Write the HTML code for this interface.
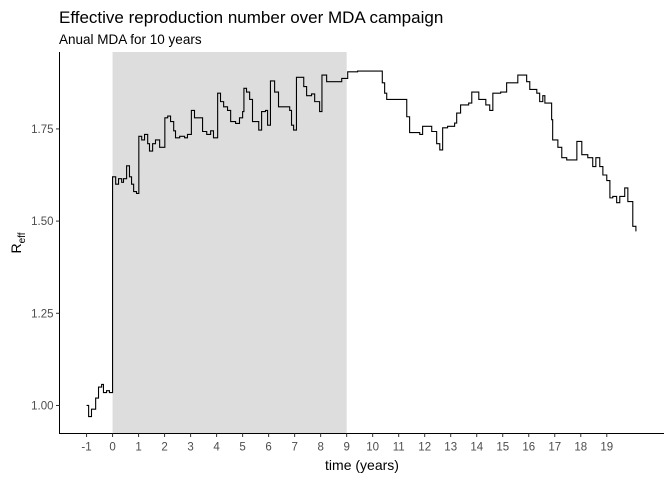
<!DOCTYPE html>
<html><head><meta charset="utf-8"><style>
html,body{margin:0;padding:0;background:#fff}
svg{display:block;font-family:"Liberation Sans",Arial,sans-serif}
</style></head><body>
<svg id="chart" width="672" height="480">
<text x="59" y="23" font-size="17" fill="#000">Effective reproduction number over MDA campaign</text>
<text x="59" y="44" font-size="13.5" fill="#000">Anual MDA for 10 years</text>
<g id="plot"></g>
<text x="362" y="470" font-size="14" text-anchor="middle" fill="#000">time (years)</text>
<text transform="translate(21,243) rotate(-90)" font-size="14" text-anchor="middle" fill="#000">R<tspan font-size="10" dy="4">eff</tspan></text>
</svg>
<script>
const times=[-1,-0.92,-0.81,-0.65,-0.54,-0.42,-0.35,-0.23,-0.12,0,0.12,0.23,0.35,0.42,0.54,0.65,0.73,0.81,0.92,1.01,1.12,1.23,1.35,1.42,1.54,1.65,1.81,2.01,2.12,2.23,2.35,2.42,2.58,2.77,2.88,3.03,3.15,3.35,3.46,3.62,3.77,3.88,4.04,4.15,4.27,4.42,4.54,4.73,4.88,5.0,5.05,5.15,5.27,5.38,5.5,5.62,5.73,5.88,5.96,6.07,6.23,6.38,6.62,6.81,6.88,6.96,7.07,7.27,7.35,7.46,7.65,7.77,7.96,8.05,8.23,8.73,8.81,9.04,9.42,10.12,10.37,10.46,10.54,10.85,11.15,11.31,11.42,11.81,11.92,12.19,12.27,12.46,12.58,12.69,12.88,13.15,13.23,13.38,13.69,13.81,14.08,14.35,14.5,14.62,14.92,15.15,15.58,15.88,15.92,16.04,16.31,16.42,16.54,16.62,16.88,16.92,17.12,17.27,17.46,17.65,17.85,18.04,18.27,18.46,18.58,18.73,18.85,19.0,19.12,19.23,19.38,19.5,19.69,19.81,20.0,20.12];
const reff=[1.00,0.97,0.99,1.02,1.05,1.057,1.035,1.04,1.035,1.62,1.60,1.615,1.605,1.615,1.65,1.62,1.60,1.58,1.575,1.73,1.72,1.735,1.71,1.69,1.71,1.72,1.70,1.78,1.785,1.77,1.745,1.726,1.73,1.726,1.735,1.80,1.78,1.78,1.743,1.735,1.745,1.726,1.847,1.824,1.81,1.80,1.77,1.765,1.78,1.797,1.86,1.85,1.83,1.77,1.77,1.747,1.797,1.80,1.76,1.88,1.85,1.81,1.81,1.80,1.76,1.747,1.89,1.89,1.865,1.84,1.845,1.824,1.797,1.896,1.878,1.878,1.887,1.905,1.907,1.907,1.875,1.847,1.83,1.83,1.83,1.783,1.74,1.735,1.757,1.757,1.743,1.71,1.693,1.753,1.757,1.766,1.793,1.815,1.82,1.85,1.83,1.815,1.80,1.847,1.85,1.875,1.896,1.896,1.878,1.857,1.847,1.824,1.84,1.82,1.775,1.72,1.70,1.672,1.666,1.666,1.716,1.68,1.672,1.648,1.672,1.648,1.625,1.61,1.563,1.567,1.55,1.567,1.59,1.553,1.486,1.472];
const xTicks=[-1,0,1,2,3,4,5,6,7,8,9,10,11,12,13,14,15,16,17,18,19];
const yTicks=[1.00,1.25,1.50,1.75];
const mdaStart=0, mdaEnd=9;

const L=59.5,R=664,T=52,B=433.5;
const xMin=-2.04,xMax=21.2,yMin=0.924,yMax=1.9586;
const sx=t=>L+(t-xMin)/(xMax-xMin)*(R-L);
const sy=v=>B-(v-yMin)/(yMax-yMin)*(B-T);
const NS='http://www.w3.org/2000/svg';
const g=document.getElementById('plot');
function mk(tag,attrs){const e=document.createElementNS(NS,tag);for(const k in attrs)e.setAttribute(k,attrs[k]);g.appendChild(e);return e;}

const rect=mk('rect',{x:sx(mdaStart),y:T,width:sx(mdaEnd)-sx(mdaStart),height:B-T,fill:'#dddddd'});



let d='M'+sx(times[0])+','+sy(reff[0]);
for(let i=1;i<times.length;i++){d+='H'+sx(times[i])+'V'+sy(reff[i]);}
const line=mk('path',{d:d,fill:'none',stroke:'#000','stroke-width':1.1});



const ax=mk('path',{d:`M${L},${T}V${B}H${R}`,fill:'none',stroke:'#000','stroke-width':1});



xTicks.forEach(t=>{
  const x=sx(t);
  const tk=mk('line',{x1:x,x2:x,y1:B,y2:B+3.5,stroke:'#333'});
  
  
  const tx=mk('text',{x:x,y:B+17,'font-size':11.5,'text-anchor':'middle',fill:'#4d4d4d'});
  tx.textContent=t;
  
  
});
yTicks.forEach(v=>{
  const y=sy(v);
  const tk=mk('line',{x1:L-3.5,x2:L,y1:y,y2:y,stroke:'#333'});
  
  
  const tx=mk('text',{x:L-6,y:y+4,'font-size':11.5,'text-anchor':'end',fill:'#4d4d4d'});
  tx.textContent=v.toFixed(2);
  
  
});
</script>
</body></html>
